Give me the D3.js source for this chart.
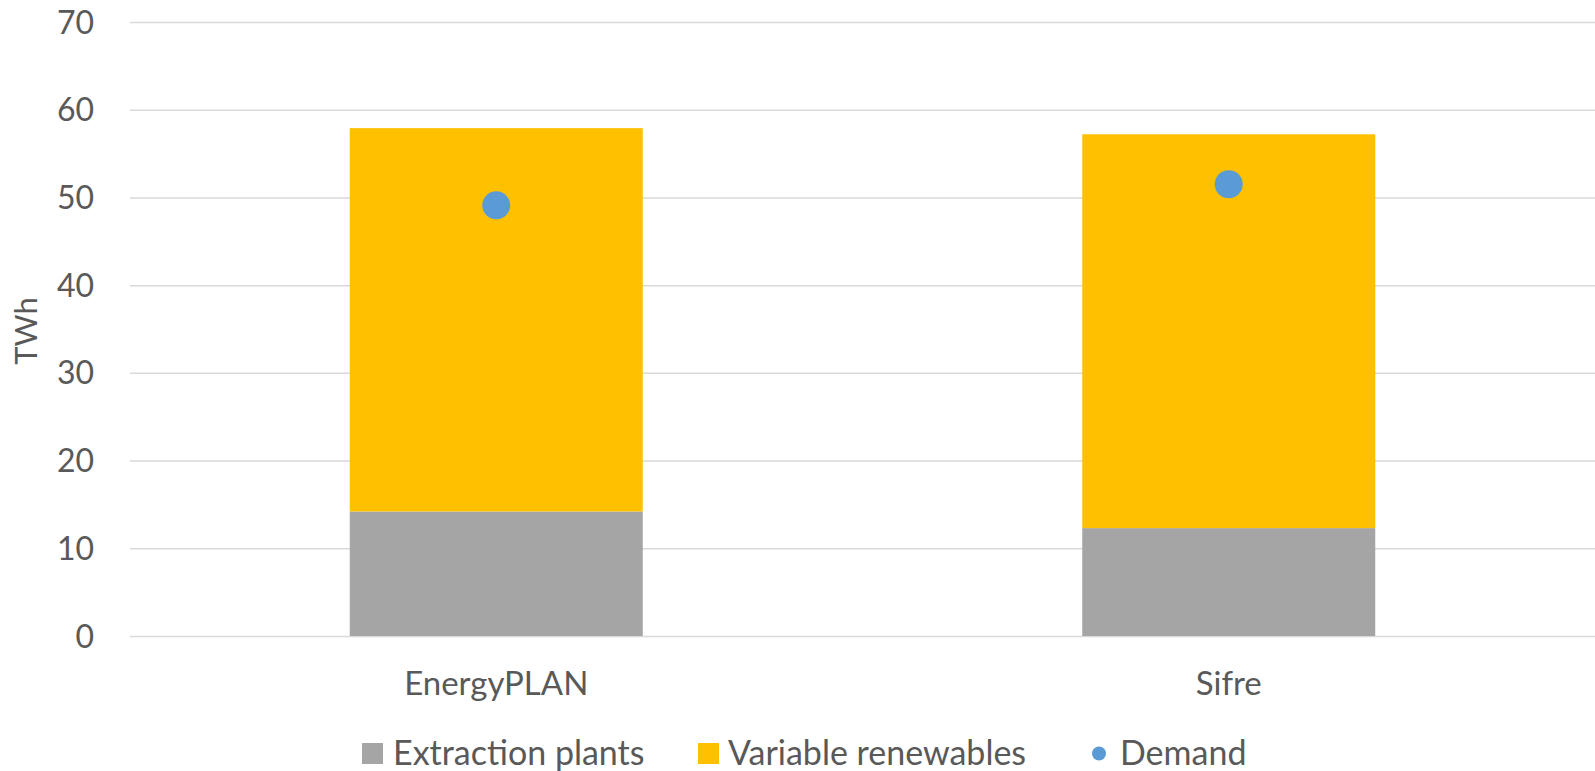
<!DOCTYPE html>
<html>
<head>
<meta charset="utf-8">
<script src="https://cdn.jsdelivr.net/npm/d3@7"></script>
<style>
  html, body { margin: 0; padding: 0; background: #fff; }
  svg { display: block; }
  text { font-family: Lato, "Open Sans", sans-serif; fill: #595959; }
</style>
</head>
<body>
<div id="chart"></div>
<script>
const WIDTH = 1595;
const HEIGHT = 771;

// data
const categories = ["EnergyPLAN", "Sifre"];
const extraction = [14.2, 12.3];
const renewables = [43.7, 44.9];
const demand = [49.1, 51.5];
const yTicks = [0, 10, 20, 30, 40, 50, 60, 70];
const seriesNames = ["Extraction plants", "Variable renewables", "Demand"];

const GREY = "#a5a5a5";
const YELLOW = "#ffc000";
const BLUE = "#5b9bd5";

const margin = { top: 22, right: 0, bottom: 135, left: 130 };

const svg = d3.select("#chart").append("svg")
  .attr("width", WIDTH)
  .attr("height", HEIGHT);

const x = d3.scaleBand()
  .domain(categories)
  .range([margin.left, WIDTH - margin.right])
  .paddingInner(0.6)
  .paddingOuter(0.3);

const y = d3.scaleLinear()
  .domain([0, 70])
  .range([HEIGHT - margin.bottom, margin.top]);

// gridlines
svg.append("g")
  .selectAll("line")
  .data(yTicks)
  .join("line")
  .attr("x1", margin.left)
  .attr("x2", WIDTH - margin.right)
  .attr("y1", d => y(d) + 0.5)
  .attr("y2", d => y(d) + 0.5)
  .attr("stroke", "#d9d9d9")
  .attr("stroke-width", 1.5);

// y tick labels
svg.append("g")
  .selectAll("text")
  .data(yTicks)
  .join("text")
  .attr("x", 94)
  .attr("y", d => y(d))
  .attr("dy", "0.36em")
  .attr("text-anchor", "end")
  .style("font-size", "32px")
  .text(d => d);

// y title
svg.append("text")
  .attr("transform", `translate(37, 331) rotate(-90)`)
  .attr("text-anchor", "middle")
  .style("font-size", "31px")
  .text("TWh");

// stacked bars
const rows = categories.map((c, i) => ({ cat: c, ext: extraction[i], ren: renewables[i], dem: demand[i] }));
const stack = d3.stack().keys(["ext", "ren"])(rows);
const colors = { ext: GREY, ren: YELLOW };

svg.append("g")
  .selectAll("g")
  .data(stack)
  .join("g")
  .attr("fill", d => colors[d.key])
  .selectAll("rect")
  .data(d => d)
  .join("rect")
  .attr("x", d => x(d.data.cat))
  .attr("width", x.bandwidth())
  .attr("y", d => y(d[1]))
  .attr("height", d => y(d[0]) - y(d[1]));

// demand dots
svg.append("g")
  .selectAll("circle")
  .data(rows)
  .join("circle")
  .attr("cx", d => x(d.cat) + x.bandwidth() / 2)
  .attr("cy", d => y(d.dem))
  .attr("r", 14)
  .attr("fill", BLUE);

// category labels
svg.append("g")
  .selectAll("text")
  .data(categories)
  .join("text")
  .attr("x", d => x(d) + x.bandwidth() / 2)
  .attr("y", 695)
  .attr("text-anchor", "middle")
  .style("font-size", "33px")
  .text(d => d);

// legend
const legend = svg.append("g").attr("transform", "translate(0, 765)");
const legendX = [362, 698, 1092];

legend.append("rect")
  .attr("x", legendX[0]).attr("y", -22).attr("width", 21).attr("height", 21)
  .attr("fill", GREY);
legend.append("rect")
  .attr("x", legendX[1]).attr("y", -22).attr("width", 21).attr("height", 21)
  .attr("fill", YELLOW);
legend.append("circle")
  .attr("cx", legendX[2] + 7).attr("cy", -11.5).attr("r", 7)
  .attr("fill", BLUE);

legend.selectAll("text")
  .data(seriesNames)
  .join("text")
  .attr("x", (d, i) => [393, 728, 1120][i])
  .attr("y", 0)
  .style("font-size", "34px")
  .text(d => d);
</script>
</body>
</html>
